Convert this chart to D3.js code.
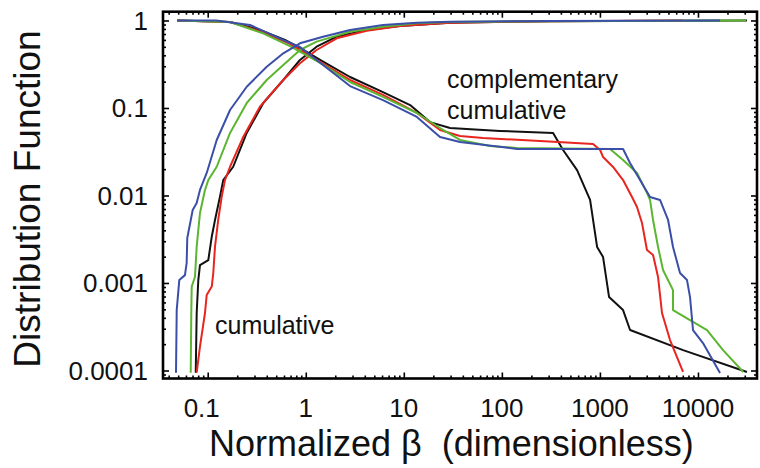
<!DOCTYPE html>
<html><head><meta charset="utf-8">
<script src="https://cdn.jsdelivr.net/npm/d3@7"></script>
<style>
html,body{margin:0;padding:0;background:#fff;}
svg{display:block;font-family:"Liberation Sans",Arial,Helvetica,sans-serif;}
</style></head>
<body>
<svg id="chart" width="760" height="468"></svg>
<script>
// ---- data (x = normalized beta, y = distribution function) ----
const xTickLabels = ["0.1","1","10","100","1000","10000"];
const yTickLabels = ["1","0.1","0.01","0.001","0.0001"];
const seriesColors = {black:"#111111", red:"#e8251f", green:"#5cb531", blue:"#3b4fa8"};

const blackCDF = [[0.0755,0.0000944],[0.0772,0.000454],[0.0802,0.00108],[0.0834,0.0016],[0.1014,0.00183],[0.11,0.00338],[0.1187,0.00525],[0.1334,0.0097],[0.144,0.015],[0.182,0.0213],[0.25,0.0518],[0.369,0.114],[0.59,0.209],[0.873,0.354],[1.29,0.502],[2.07,0.653],[4.19,0.778],[9.14,0.865],[29.6,0.944],[310,0.982],[31600,1]];
const redCDF = [[0.0772,0.0000944],[0.0834,0.000187],[0.0938,0.000454],[0.0977,0.00073],[0.11,0.00091],[0.114,0.0013],[0.1187,0.0026],[0.128,0.00525],[0.139,0.0097],[0.15,0.015],[0.169,0.0213],[0.231,0.047],[0.341,0.1035],[0.59,0.209],[0.873,0.324],[1.29,0.46],[2.07,0.626],[4.19,0.764],[9.14,0.865],[29.6,0.944],[310,0.982],[7050,1]];
const greenCDF = [[0.0671,0.0000944],[0.068,0.000454],[0.0687,0.00091],[0.0742,0.00118],[0.0772,0.0026],[0.0834,0.0063],[0.0938,0.01156],[0.1014,0.015],[0.1236,0.0213],[0.169,0.0518],[0.25,0.114],[0.40,0.209],[0.59,0.31],[0.873,0.46],[1.29,0.573],[2.83,0.745],[6.13,0.85],[13.6,0.929],[29.6,0.961],[310,0.982],[31000,1]];
const blueCDF = [[0.0475,0.0000944],[0.0483,0.00049],[0.0513,0.00108],[0.0586,0.00123],[0.061,0.00169],[0.0619,0.00327],[0.0703,0.00682],[0.0772,0.0082],[0.0834,0.01156],[0.0977,0.0181],[0.1236,0.0431],[0.169,0.0948],[0.25,0.175],[0.40,0.296],[0.59,0.422],[0.873,0.549],[1.50,0.653],[2.83,0.778],[6.13,0.889],[13.6,0.944],[29.6,0.969],[310,0.987],[16790,1]];

const blackCCDF = [[0.0487,1],[0.169,0.96],[0.341,0.78],[0.614,0.60],[0.873,0.485],[1.40,0.354],[2.83,0.226],[6.13,0.152],[11.6,0.108],[18.5,0.069],[29.6,0.059],[95.7,0.0546],[333,0.0518],[421,0.0331],[585,0.0195],[794,0.0089],[936,0.00258],[1077,0.00198],[1240,0.00069],[1722,0.00049],[2030,0.00029],[7050,0.000171],[31600,0.0000962]];
const redCCDF = [[0.0487,1],[0.169,0.96],[0.358,0.74],[0.69,0.54],[1.40,0.336],[2.83,0.209],[6.13,0.141],[13.6,0.0877],[23.4,0.0561],[37.4,0.0479],[64.3,0.0454],[245,0.042],[851,0.0388],[1005,0.0331],[1077,0.0275],[1362,0.0212],[1722,0.015],[2125,0.0096],[2389,0.0074],[2687,0.00485],[3020,0.00238],[3483,0.00209],[3917,0.00117],[4297,0.000454],[5188,0.000223],[7047,0.0000962]];
const greenCCDF = [[0.0487,1],[0.169,0.96],[0.358,0.72],[0.69,0.51],[1.40,0.327],[2.83,0.198],[6.13,0.134],[13.6,0.0877],[23.4,0.059],[37.4,0.0431],[75.7,0.0368],[143,0.0349],[1268,0.034],[1722,0.0255],[2389,0.0181],[3020,0.0107],[3243,0.0089],[3483,0.00525],[3917,0.00258],[4403,0.00141],[5566,0.00083],[5566,0.00049],[8300,0.000377],[12370,0.00029],[18020,0.000171],[29000,0.0000962]];
const blueCCDF = [[0.0487,1],[0.122,1],[0.27,0.89],[0.586,0.60],[0.873,0.498],[1.50,0.31],[2.83,0.178],[6.13,0.123],[13.6,0.079],[23.4,0.0467],[37.4,0.0409],[143,0.034],[1722,0.034],[2028,0.0235],[2565,0.015],[3243,0.0096],[4102,0.0089],[4955,0.00525],[5566,0.00258],[6561,0.0013],[7731,0.00108],[8300,0.00069],[8900,0.00029],[11250,0.000206],[16790,0.0000936]];

const xMajor = [0.1,1,10,100,1000,10000];
const yMajor = [1,0.1,0.01,0.001,0.0001];

// ---- layout ----
const L = 163, R = 757, T = 11.7, B = 378.5;
const x = d3.scaleLog().domain([0.035, 40000]).range([L, R]);
const y = d3.scaleLog().domain([0.000081, 1.26]).range([B, T]);

const svg = d3.select("#chart");

function minorTicks(scale){
  const [a,b] = scale.domain();
  const out = [];
  for (let e = Math.floor(Math.log10(a)); e <= Math.ceil(Math.log10(b)); e++){
    for (let k = 2; k <= 9; k++){
      const v = k*Math.pow(10,e);
      if (v > a && v < b) out.push(v);
    }
  }
  return out;
}
const xMinor = minorTicks(x), yMinor = minorTicks(y);

// clip
svg.append("defs").append("clipPath").attr("id","clip")
  .append("rect").attr("x",L).attr("y",T).attr("width",R-L).attr("height",B-T);

// curves
const line = d3.line().x(d=>x(d[0])).y(d=>y(d[1]));
const g = svg.append("g").attr("clip-path","url(#clip)");
const series = [
  [blackCDF,"black"],[blackCCDF,"black"],
  [redCDF,"red"],[redCCDF,"red"],
  [greenCDF,"green"],[greenCCDF,"green"],
  [blueCDF,"blue"],[blueCCDF,"blue"]
];
series.forEach(([d,c])=>{
  g.append("path").datum(d).attr("d",line)
    .attr("fill","none").attr("stroke",seriesColors[c])
    .attr("stroke-width",2).attr("stroke-linejoin","round");
});

// ticks (inward on all four sides)
function tickAxis(axisFn, scale, vals, size, transform){
  svg.append("g").attr("transform",transform)
    .call(axisFn(scale).tickValues(vals).tickSize(size).tickFormat(""))
    .call(s=>s.select(".domain").remove())
    .call(s=>s.selectAll("line").attr("stroke","#000").attr("stroke-width",1.6));
}
tickAxis(d3.axisBottom, x, xMinor, -3, `translate(0,${B})`);
tickAxis(d3.axisBottom, x, xMajor, -6, `translate(0,${B})`);
tickAxis(d3.axisTop, x, xMinor, -3, `translate(0,${T})`);
tickAxis(d3.axisTop, x, xMajor, -6, `translate(0,${T})`);
tickAxis(d3.axisLeft, y, yMinor, -3, `translate(${L},0)`);
tickAxis(d3.axisLeft, y, yMajor, -6, `translate(${L},0)`);
tickAxis(d3.axisRight, y, yMinor, -3, `translate(${R},0)`);
tickAxis(d3.axisRight, y, yMajor, -6, `translate(${R},0)`);

// frame
svg.append("rect").attr("x",L).attr("y",T).attr("width",R-L).attr("height",B-T)
  .attr("fill","none").attr("stroke","#000").attr("stroke-width",2.6);

// tick labels
svg.append("g").selectAll("text").data(xMajor).join("text")
  .attr("x",(d,i)=>x(d) - (i===0?6:0)).attr("y",417)
  .attr("text-anchor","middle").attr("font-size",26).attr("fill","#111")
  .text((d,i)=>xTickLabels[i]);
svg.append("g").selectAll("text").data(yMajor).join("text")
  .attr("x",148).attr("y",d=>y(d)+9.5)
  .attr("text-anchor","end").attr("font-size",26).attr("fill","#111")
  .text((d,i)=>yTickLabels[i]);

// axis titles
svg.append("text").attr("x",209).attr("y",456).attr("font-size",36).attr("fill","#111")
  .attr("xml:space","preserve")
  .text("Normalized \u03B2  (dimensionless)");
svg.append("text").attr("transform","translate(40,199) rotate(-90)")
  .attr("text-anchor","middle").attr("font-size",37).attr("fill","#111")
  .text("Distribution Function");

// annotations
svg.append("text").attr("x",447).attr("y",88).attr("font-size",25).attr("fill","#111").text("complementary");
svg.append("text").attr("x",447).attr("y",119).attr("font-size",25).attr("fill","#111").text("cumulative");
svg.append("text").attr("x",215).attr("y",334).attr("font-size",25).attr("fill","#111").text("cumulative");
</script>
</body></html>
